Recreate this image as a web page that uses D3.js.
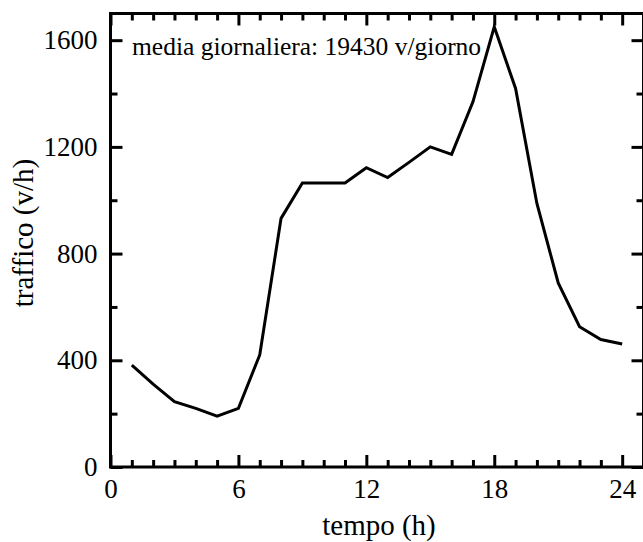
<!DOCTYPE html>
<html>
<head>
<meta charset="utf-8">
<script src="https://cdn.jsdelivr.net/npm/d3@7"></script>
</head>
<body style="margin:0">
<script>
// hourly traffic (v/h)
const hours = [1, 2, 3, 4, 5, 6, 7, 8, 9, 10, 11, 12, 13, 14, 15, 16, 17, 18, 19, 20, 21, 22, 23, 24];
const traffic = [382, 311, 245, 220, 191, 220, 420, 932, 1065, 1065, 1065, 1122, 1085, 1142, 1200, 1172, 1369, 1650, 1419, 988, 690, 526, 478, 461];
const xMajor = [0, 6, 12, 18, 24];
const yMajor = [0, 400, 800, 1200, 1600];
const xLabel = "tempo (h)";
const yLabel = "traffico (v/h)";
const note = "media giornaliera: 19430 v/giorno";

let width = 643, height = 542;
let pLeft = 110.5, pRight = 643.5, pTop = 13.5, pBottom = 467;
let serif = "Times New Roman";

let svg = d3.select("body").append("svg")
    .attr("width", width)
    .attr("height", height)
    .style("display", "block");

let x = d3.scaleLinear().domain([0, 25]).range([pLeft, pRight]);
let y = d3.scaleLinear().domain([0, 1700]).range([pBottom, pTop]);

let xMinor = d3.range(0, 26).filter(d => d % 6 != 0);
let yMinor = d3.range(200, 1700, 400);

function styleAxis(g) {
    g.select(".domain").remove();
    g.selectAll(".tick line").attr("stroke", "#000").attr("stroke-width", 3);
    g.selectAll(".tick text").attr("fill", "#000").attr("font-family", serif).attr("font-size", 27);
}

// minor ticks, all four sides
svg.append("g").attr("transform", "translate(0," + pBottom + ")")
    .call(d3.axisBottom(x).tickValues(xMinor).tickSize(-7).tickFormat("")).call(styleAxis);
svg.append("g").attr("transform", "translate(0," + pTop + ")")
    .call(d3.axisTop(x).tickValues(xMinor).tickSize(-7).tickFormat("")).call(styleAxis);
svg.append("g").attr("transform", "translate(" + pLeft + ",0)")
    .call(d3.axisLeft(y).tickValues(yMinor).tickSize(-7).tickFormat("")).call(styleAxis);
svg.append("g").attr("transform", "translate(" + pRight + ",0)")
    .call(d3.axisRight(y).tickValues(yMinor).tickSize(-7).tickFormat("")).call(styleAxis);

// major ticks with labels
svg.append("g").attr("transform", "translate(0," + pBottom + ")")
    .call(d3.axisBottom(x).tickValues(xMajor).tickSize(-12).tickPadding(12).tickFormat(d3.format("d"))).call(styleAxis);
svg.append("g").attr("transform", "translate(0," + pTop + ")")
    .call(d3.axisTop(x).tickValues(xMajor).tickSize(-12).tickFormat("")).call(styleAxis);
svg.append("g").attr("transform", "translate(" + pLeft + ",0)")
    .call(d3.axisLeft(y).tickValues(yMajor).tickSize(-12).tickPadding(13).tickFormat(d3.format("d"))).call(styleAxis);
svg.append("g").attr("transform", "translate(" + pRight + ",0)")
    .call(d3.axisRight(y).tickValues(yMajor).tickSize(-12).tickFormat("")).call(styleAxis);

// frame
svg.append("rect")
    .attr("x", pLeft).attr("y", pTop)
    .attr("width", pRight - pLeft).attr("height", pBottom - pTop)
    .attr("fill", "none")
    .attr("stroke", "#000")
    .attr("stroke-width", 3);

// data line
let line = d3.line()
    .x((d, i) => x(hours[i]))
    .y(d => y(d));

svg.append("path")
    .datum(traffic)
    .attr("d", line)
    .attr("fill", "none")
    .attr("stroke", "#000")
    .attr("stroke-width", 3)
    .attr("stroke-linejoin", "miter");

// texts
svg.append("text")
    .attr("x", 132).attr("y", 55)
    .attr("font-family", serif)
    .attr("font-size", 25.5)
    .text(note);

svg.append("text")
    .attr("x", 379).attr("y", 535)
    .attr("text-anchor", "middle")
    .attr("font-family", serif)
    .attr("font-size", 29)
    .text(xLabel);

svg.append("text")
    .attr("transform", "translate(33,233) rotate(-90)")
    .attr("text-anchor", "middle")
    .attr("font-family", serif)
    .attr("font-size", 29)
    .text(yLabel);
</script>
</body>
</html>
